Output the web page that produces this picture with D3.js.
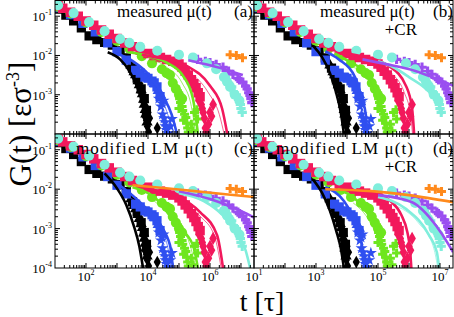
<!DOCTYPE html>
<html lang="en">
<head>
<meta charset="UTF-8" />
<title>G(t)</title>
<script src="https://cdn.jsdelivr.net/npm/d3@7"></script>
<style>
  body { margin: 0; background: #fff; }
  text { font-family: "Liberation Serif", "Times New Roman", serif; fill: #000; }
</style>
</head>
<body>
<svg id="chart" width="454" height="317"></svg>
<script>
// all values are [log10 t, log10 G]
const blackSquares = [[1.1,-0.82],[1.35,-0.97],[1.6,-1.12],[1.85,-1.3],[2.1,-1.5],[2.35,-1.6],[2.6,-1.67],[2.85,-1.74],[3.1,-1.88],[3.3,-2.06],[3.5,-2.32],[3.65,-2.58],[3.78,-2.85],[3.88,-3.1],[3.95,-3.4]];
const blackTriangles = [[3.45,-2.25],[3.55,-2.42],[3.6,-2.5],[3.68,-2.65],[3.72,-2.75],[3.78,-2.88],[3.82,-2.98],[3.86,-3.12],[3.88,-3.25],[3.91,-3.38],[3.93,-3.5],[3.97,-3.7]];
const blackDiamonds = [[3.9,-3.55],[3.95,-3.65],[3.98,-3.8],[4.02,-3.95],[4.3,-3.85],[4.05,-3.6],[4.0,-3.45]];

const blueSquares = [[1.1,-0.78],[1.5,-0.96],[1.9,-1.18],[2.3,-1.4],[2.7,-1.68],[3.0,-1.9],[3.3,-2.12],[3.6,-2.38],[3.75,-2.45],[3.9,-2.55],[4.0,-2.58],[4.13,-2.65],[4.2,-2.7],[4.29,-2.8],[4.39,-3.05]];
const blueTriangles = [[4.05,-2.6],[4.2,-2.72],[4.33,-2.9],[4.4,-3.0]];
const blueStars = [[4.35,-3.1],[4.42,-3.3],[4.45,-3.22],[4.47,-3.5],[4.5,-3.15],[4.52,-3.6],[4.55,-3.7],[4.56,-3.8],[4.6,-3.9],[4.65,-3.98],[4.72,-3.8],[4.77,-3.62]];

const greenCircles = [[1.1,-0.76],[1.5,-0.93],[2.0,-1.16],[2.5,-1.4],[3.0,-1.63],[3.4,-1.83],[3.8,-2.02],[4.13,-2.2],[4.45,-2.35],[4.6,-2.45],[4.71,-2.5],[4.8,-2.7],[4.9,-2.85],[5.0,-3.0],[5.1,-3.1]];
const greenStars = [[4.95,-2.9],[5.02,-3.1],[5.0,-3.35],[5.05,-3.2],[5.1,-3.3],[5.12,-3.4],[5.15,-3.65],[5.18,-3.5],[5.22,-3.58],[5.25,-3.72],[5.28,-3.85],[5.3,-3.95],[5.4,-3.75],[5.45,-3.92],[5.5,-3.45],[5.58,-3.38],[5.6,-3.62]];

const redSquares = [[1.1,-0.73],[1.25,-0.8],[1.5,-0.9],[1.75,-1.0],[2.0,-1.12],[2.25,-1.23],[2.5,-1.35],[2.75,-1.46],[3.0,-1.57],[3.25,-1.68],[3.5,-1.78],[3.75,-1.87],[4.0,-1.95],[4.2,-2.0],[4.4,-2.05],[4.6,-2.1],[4.8,-2.15],[5.0,-2.22],[5.1,-2.3],[5.2,-2.4],[5.3,-2.5],[5.4,-2.62],[5.48,-2.72],[5.55,-2.82],[5.62,-2.95],[5.68,-3.05]];
const redDiamonds = [[5.58,-2.9],[5.65,-3.15],[5.72,-3.25],[5.75,-3.35],[5.78,-3.45],[5.82,-3.6],[5.85,-3.85],[5.88,-3.95],[5.95,-3.75],[6.0,-3.45],[6.05,-3.55],[6.1,-3.25]];

const cyanCircles = [[1.1,-0.72],[1.6,-0.92],[2.1,-1.15],[2.6,-1.38],[3.1,-1.58],[3.4,-1.68],[3.75,-1.78],[4.3,-1.88],[5.0,-1.98],[5.45,-2.05],[5.9,-2.2],[6.2,-2.35],[6.45,-2.55],[6.55,-2.67],[6.65,-2.8],[6.8,-3.0],[6.95,-3.15]];
const cyanCrosses = [[6.5,-2.55],[6.6,-2.7],[6.7,-2.8],[6.78,-2.95],[6.85,-3.0],[6.92,-3.12],[6.98,-3.25],[7.0,-3.35],[7.04,-3.45]];

const purpleCrosses = [[5.6,-2.1],[5.85,-2.15],[6.0,-2.18],[6.2,-2.23],[6.42,-2.3],[6.6,-2.4],[6.74,-2.48],[6.9,-2.58],[6.95,-2.62],[7.06,-2.68],[7.15,-2.78],[7.2,-2.85],[7.25,-2.95],[7.29,-3.02],[7.32,-3.1],[7.35,-3.2]];
const orangeCrosses = [[6.65,-1.98],[6.85,-2.0],[7.05,-2.06]];

// fitted curves, one list per panel: [colour, points]
const fitsMeasured = [
  ["black",  [[2.7,-1.92],[3.1,-2.1],[3.4,-2.4],[3.65,-2.8],[3.82,-3.2],[3.93,-3.6],[3.99,-4.05]]],
  ["blue",   [[3.0,-1.95],[3.52,-2.15],[4.06,-2.52],[4.48,-3.02],[4.77,-3.52],[4.95,-4.05]]],
  ["green",  [[3.4,-1.92],[3.84,-1.98],[4.6,-2.18],[5.13,-2.52],[5.45,-3.1],[5.62,-4.05]]],
  ["red",    [[3.8,-1.98],[4.29,-2.05],[5.26,-2.27],[6.0,-2.77],[6.39,-3.35],[6.57,-4.05]]],
  ["purple", [[5.3,-2.12],[6.0,-2.25],[6.6,-2.38],[7.06,-2.5]]]
];
const thinMeasured = [
  ["blue",  [[3.6,-2.25],[4.1,-2.65],[4.5,-3.2],[4.72,-3.7],[4.85,-4.05]]],
  ["green", [[4.0,-2.05],[4.6,-2.3],[5.1,-2.7],[5.4,-3.3],[5.55,-4.05]]],
  ["red",   [[4.5,-2.1],[5.3,-2.4],[5.95,-2.95],[6.3,-3.5],[6.47,-4.05]]]
];
const fitsMeasuredCR = [
  ["black",  [[2.9,-1.75],[3.2,-2.05],[3.45,-2.45],[3.65,-2.95],[3.8,-3.45],[3.91,-4.05]]],
  ["blue",   [[3.3,-1.9],[3.74,-2.1],[4.29,-2.6],[4.48,-3.1],[4.61,-3.52],[4.66,-4.05]]],
  ["green",  [[3.6,-1.95],[4.06,-2.15],[4.71,-2.52],[5.03,-3.1],[5.19,-3.6],[5.27,-4.05]]],
  ["red",    [[4.0,-1.95],[4.48,-2.02],[5.35,-2.27],[5.9,-2.77],[6.1,-3.35],[6.17,-4.05]]],
  ["cyan",   [[5.0,-2.15],[5.5,-2.3],[6.0,-2.55],[6.65,-2.93],[6.97,-3.27],[7.1,-3.5]]],
  ["purple", [[4.5,-2.1],[5.26,-2.22],[6.23,-2.4],[7.06,-2.65],[7.42,-2.77]]]
];
const thinMeasuredCR = [
  ["green", [[4.2,-2.3],[4.7,-2.6],[5.0,-3.1],[5.15,-3.6],[5.22,-4.05]]],
  ["red",   [[4.8,-2.2],[5.5,-2.5],[5.85,-2.95],[6.05,-3.5],[6.12,-4.05]]]
];
const fitsModified = [
  ["black",  [[2.6,-1.6],[3.0,-1.98],[3.3,-2.4],[3.55,-2.95],[3.72,-3.45],[3.85,-4.05]]],
  ["blue",   [[3.0,-1.85],[3.74,-2.33],[4.39,-2.92],[4.71,-3.42],[4.81,-4.05]]],
  ["green",  [[3.5,-1.95],[4.2,-2.2],[4.94,-2.92],[5.45,-3.42],[5.62,-4.05]]],
  ["red",    [[4.0,-2.0],[5.0,-2.2],[5.68,-2.58],[6.23,-3.17],[6.43,-4.05]]],
  ["cyan",   [[5.0,-2.1],[5.8,-2.3],[6.4,-2.65],[6.85,-3.1],[7.15,-3.55],[7.31,-4.05]]],
  ["purple", [[5.0,-2.05],[6.0,-2.25],[6.6,-2.42],[7.0,-2.55],[7.42,-2.72]]],
  ["orange", [[3.5,-1.9],[4.5,-1.97],[5.5,-2.05],[6.5,-2.13],[7.42,-2.2]]]
];
const thinModified = [
  ["blue",  [[3.4,-2.2],[4.2,-2.8],[4.6,-3.35],[4.75,-4.05]]],
  ["green", [[4.2,-2.3],[4.9,-2.85],[5.35,-3.4],[5.55,-4.05]]],
  ["red",   [[5.0,-2.3],[5.7,-2.7],[6.15,-3.2],[6.37,-4.05]]]
];
const fitsModifiedCR = [
  ["black",  [[2.9,-1.75],[3.2,-2.1],[3.45,-2.55],[3.65,-3.05],[3.8,-3.5],[3.91,-4.05]]],
  ["blue",   [[3.3,-1.95],[3.9,-2.3],[4.2,-2.7],[4.4,-3.15],[4.5,-3.55],[4.56,-4.05]]],
  ["green",  [[3.7,-2.0],[4.4,-2.35],[4.8,-2.8],[5.05,-3.3],[5.2,-3.7],[5.27,-4.05]]],
  ["red",    [[4.3,-2.0],[5.0,-2.1],[5.4,-2.3],[5.75,-2.65],[5.95,-3.1],[6.03,-3.5],[6.08,-4.05]]],
  ["cyan",   [[5.0,-2.2],[5.9,-2.5],[6.65,-3.17],[6.9,-3.6],[6.98,-4.05]]],
  ["purple", [[5.0,-2.15],[6.1,-2.33],[6.87,-2.92],[7.29,-3.42],[7.42,-3.6]]],
  ["orange", [[3.3,-2.0],[4.8,-2.05],[6.0,-2.15],[7.42,-2.33]]]
];
const thinModifiedCR = [
  ["green", [[4.2,-2.35],[4.75,-2.85],[5.05,-3.4],[5.22,-4.05]]],
  ["cyan",  [[5.5,-2.4],[6.3,-2.85],[6.8,-3.5],[6.94,-4.05]]]
];

const colors = {
  black: "#000000", blue: "#2f4ff0", green: "#6ee61e", red: "#f2185c",
  cyan: "#80eedc", purple: "#9a4ff0", orange: "#ff8a1c"
};

// marker layers, drawn back to front
const markerLayers = [
  [blackSquares, "black", d3.symbolSquare, 85],
  [blackTriangles, "black", d3.symbolTriangle, 55],
  [blackDiamonds, "black", d3.symbolDiamond, 45],
  [blueSquares, "blue", d3.symbolSquare, 85],
  [blueTriangles, "blue", d3.symbolTriangle, 55],
  [blueStars, "blue", d3.symbolStar, 45],
  [greenCircles, "green", d3.symbolCircle, 80],
  [greenStars, "green", d3.symbolCross, 45],
  [orangeCrosses, "orange", d3.symbolCross, 45],
  [purpleCrosses, "purple", d3.symbolCross, 48],
  [redSquares, "red", d3.symbolSquare, 90],
  [redDiamonds, "red", d3.symbolDiamond, 50],
  [cyanCircles, "cyan", d3.symbolCircle, 80],
  [cyanCrosses, "cyan", d3.symbolCross, 48]
];

const panels = [
  { x0: 55,  x1: 254, y0: 0.5, y1: 134, title: "measured \u03bc(t)", tx: 117, ty: 17, tag: "(a)", cr: false, fits: fitsMeasured, thin: thinMeasured, yLabels: [-1,-2,-3], xLabels: [] },
  { x0: 254, x1: 453, y0: 0.5, y1: 134, title: "measured \u03bc(t)", tx: 320, ty: 17, tag: "(b)", cr: true, fits: fitsMeasuredCR, thin: thinMeasuredCR, yLabels: [], xLabels: [] },
  { x0: 55,  x1: 254, y0: 134, y1: 268, title: "modified LM \u03bc(t)", tx: 76, ty: 154, tag: "(c)", cr: false, fits: fitsModified, thin: thinModified, yLabels: [-1,-2,-3,-4], xLabels: [2,4,6] },
  { x0: 254, x1: 453, y0: 134, y1: 268, title: "modified LM \u03bc(t)", tx: 276, ty: 154, tag: "(d)", cr: true, fits: fitsModifiedCR, thin: thinModifiedCR, yLabels: [], xLabels: [1,3,5,7] }
];

const svg = d3.select("#chart");

panels.forEach((p, i) => {
  const x = d3.scaleLog().domain([1e1, Math.pow(10, 7.42)]).range([p.x0, p.x1]);
  const y = d3.scaleLog().domain([1e-4, Math.pow(10, -0.6)]).range([p.y1, p.y0]);
  const px = d => x(Math.pow(10, d[0]));
  const py = d => y(Math.pow(10, d[1]));

  svg.append("clipPath").attr("id", "clip" + i)
    .append("rect").attr("x", p.x0).attr("y", p.y0)
    .attr("width", p.x1 - p.x0).attr("height", p.y1 - p.y0);

  const g = svg.append("g").attr("clip-path", `url(#clip${i})`);

  markerLayers.forEach(([data, c, type, size]) => {
    g.selectAll(null).data(data).enter().append("path")
      .attr("d", d3.symbol().type(type).size(size))
      .attr("transform", d => `translate(${px(d)},${py(d)})`)
      .attr("fill", colors[c]);
  });

  const line = d3.line().x(px).y(py).curve(d3.curveMonotoneX);
  p.thin.forEach(([c, pts]) => {
    g.append("path").attr("d", line(pts))
      .attr("fill", "none").attr("stroke", colors[c])
      .attr("stroke-width", 0.9).attr("opacity", 0.75);
  });
  p.fits.forEach(([c, pts]) => {
    g.append("path").attr("d", line(pts))
      .attr("fill", "none").attr("stroke", colors[c])
      .attr("stroke-width", 2.6);
  });

  // frame
  svg.append("rect").attr("x", p.x0).attr("y", p.y0)
    .attr("width", p.x1 - p.x0).attr("height", p.y1 - p.y0)
    .attr("fill", "none").attr("stroke", "#000").attr("stroke-width", 1);

  // inward ticks on all sides
  const isMajor = v => Math.abs(Math.log10(v) - Math.round(Math.log10(v))) < 1e-6;
  y.ticks().forEach(v => {
    const yy = y(v), len = isMajor(v) ? 5 : 3;
    if (yy < p.y0 + 1 || yy > p.y1 - 1) return;
    svg.append("line").attr("x1", p.x0).attr("x2", p.x0 + len).attr("y1", yy).attr("y2", yy).attr("stroke", "#000");
    svg.append("line").attr("x1", p.x1).attr("x2", p.x1 - len).attr("y1", yy).attr("y2", yy).attr("stroke", "#000");
  });
  x.ticks().forEach(v => {
    const xx = x(v), len = isMajor(v) ? 5 : 3;
    if (xx < p.x0 + 1 || xx > p.x1 - 1) return;
    svg.append("line").attr("x1", xx).attr("x2", xx).attr("y1", p.y1).attr("y2", p.y1 - len).attr("stroke", "#000");
    svg.append("line").attr("x1", xx).attr("x2", xx).attr("y1", p.y0).attr("y2", p.y0 + len).attr("stroke", "#000");
  });

  p.yLabels.forEach(e => {
    const t = svg.append("text").attr("x", 52).attr("y", y(Math.pow(10, e)) + 5)
      .attr("text-anchor", "end").attr("font-size", 13).text("10");
    t.append("tspan").attr("dy", -6).attr("font-size", 8).text("-" + (-e));
  });
  p.xLabels.forEach(e => {
    const t = svg.append("text").attr("x", x(Math.pow(10, e))).attr("y", 281)
      .attr("text-anchor", "middle").attr("font-size", 13).text("10");
    t.append("tspan").attr("dy", -6).attr("font-size", 8).text(e);
  });

  const title = svg.append("text").attr("x", p.tx).attr("y", p.ty).attr("font-size", 17).text(p.title);
  if (p.title.startsWith("modified")) title.attr("textLength", 137).attr("lengthAdjust", "spacing");
  svg.append("text").attr("x", p.x0 + 179).attr("y", p.ty).attr("font-size", 17).text(p.tag);
  if (p.cr) {
    svg.append("text").attr("x", 417).attr("y", p.ty + 18).attr("text-anchor", "end")
      .attr("font-size", 17).text("+CR");
  }
});

// axis titles
const yTitle = svg.append("text").attr("transform", "translate(31,124) rotate(-90)")
  .attr("text-anchor", "middle").attr("font-size", 31).text("G(t) [\u03b5\u03c3");
yTitle.append("tspan").attr("dy", -12).attr("font-size", 18).text("-3");
yTitle.append("tspan").attr("dy", 12).text("]");

svg.append("text").attr("x", 262).attr("y", 311).attr("text-anchor", "middle")
  .attr("font-size", 28).text("t [\u03c4]");
</script>
</body>
</html>
